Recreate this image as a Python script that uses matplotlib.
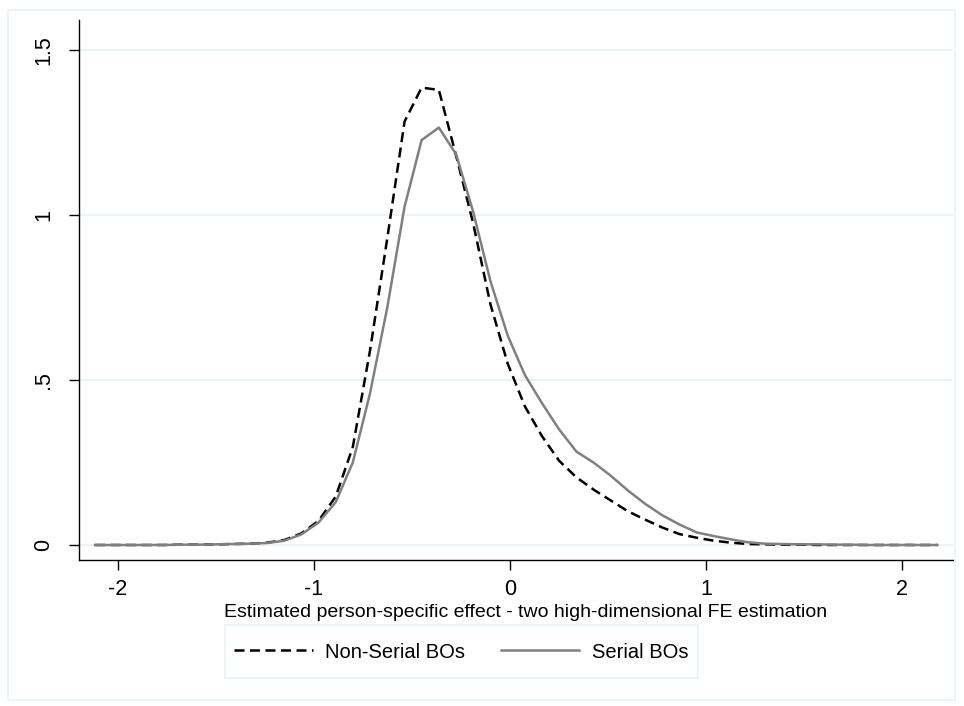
import matplotlib

matplotlib.use("Agg")

import matplotlib.pyplot as plt
from matplotlib.lines import Line2D
from matplotlib.patches import Rectangle

plt.rcParams["font.family"] = ["Liberation Sans", "DejaVu Sans"]

# kdensity evaluation grid (50 points)
grid = [
    -2.117, -2.029, -1.942, -1.854, -1.766, -1.679, -1.591, -1.503, -1.415, -1.328,
    -1.240, -1.152, -1.065, -0.977, -0.889, -0.802, -0.714, -0.626, -0.538, -0.451,
    -0.363, -0.275, -0.188, -0.100, -0.012, 0.076, 0.163, 0.251, 0.339, 0.426,
    0.514, 0.602, 0.689, 0.777, 0.865, 0.953, 1.040, 1.128, 1.216, 1.303,
    1.391, 1.479, 1.566, 1.654, 1.742, 1.830, 1.917, 2.005, 2.093, 2.180,
]

dens_nonserial = [
    0.000, 0.000, 0.000, 0.000, 0.000, 0.001, 0.001, 0.002, 0.003, 0.004,
    0.007, 0.015, 0.035, 0.073, 0.147, 0.297, 0.590, 0.930, 1.283, 1.386,
    1.379, 1.180, 0.975, 0.730, 0.550, 0.420, 0.330, 0.255, 0.205, 0.168,
    0.135, 0.102, 0.077, 0.053, 0.033, 0.022, 0.013, 0.007, 0.003, 0.002,
    0.001, 0.001, 0.000, 0.000, 0.000, 0.000, 0.000, 0.000, 0.000, 0.000,
]

dens_serial = [
    0.000, 0.000, 0.000, 0.000, 0.000, 0.001, 0.001, 0.002, 0.003, 0.004,
    0.006, 0.013, 0.032, 0.068, 0.130, 0.250, 0.460, 0.720, 1.025, 1.227,
    1.265, 1.184, 1.010, 0.800, 0.635, 0.515, 0.430, 0.350, 0.283, 0.250,
    0.210, 0.165, 0.125, 0.090, 0.062, 0.038, 0.027, 0.017, 0.008, 0.004,
    0.003, 0.002, 0.002, 0.001, 0.001, 0.000, 0.000, 0.000, 0.000, 0.000,
]

series_labels = ["Non-Serial BOs", "Serial BOs"]
xticks = [-2, -1, 0, 1, 2]
yticks = [0, 0.5, 1, 1.5]
ytick_labels = ["0", ".5", "1", "1.5"]

W, H = 964, 706
grid_color = "#eaf2f3"
gray = "#808080"

fig = plt.figure(figsize=(W / 100, H / 100), dpi=100)

# light frame around the graph region
fig.patches.append(
    Rectangle((8 / W, 6 / H), 947 / W, 690 / H, transform=fig.transFigure,
              fill=False, edgecolor=grid_color, lw=1.2)
)

ax = fig.add_axes([79 / W, 1 - 560 / H, (953 - 79) / W, (560 - 20) / H])
ax.set_xlim((79 - 510) / 196, (953 - 510) / 196)
ax.set_ylim((545 - 560) / 330, (545 - 20) / 330)

for y in yticks:
    ax.axhline(y, color=grid_color, lw=1.3, zorder=0)

ax.plot(grid, dens_nonserial, color="black", lw=1.8, dashes=(4, 2.2),
        label=series_labels[0])
ax.plot(grid, dens_serial, color=gray, lw=1.8, label=series_labels[1])

for side in ("top", "right"):
    ax.spines[side].set_visible(False)
for side in ("left", "bottom"):
    ax.spines[side].set_linewidth(1.0)

ax.set_xticks(xticks)
ax.set_xticklabels([str(t) for t in xticks])
ax.set_yticks(yticks)
ax.set_yticklabels(ytick_labels, rotation=90, va="center")
ax.tick_params(axis="both", length=7, width=1.0, labelsize=15.5)
ax.tick_params(axis="x", pad=7)
ax.tick_params(axis="y", pad=11)

ax.set_xlabel("Estimated person-specific effect - two high-dimensional FE estimation",
              fontsize=14)
ax.xaxis.set_label_coords((526 - 79) / 874, -44 / 540)

# legend box is drawn separately so its padding can be wider vertically
fig.patches.append(
    Rectangle((225 / W, 1 - 678 / H), 473 / W, 53 / H, transform=fig.transFigure,
              fill=False, edgecolor=grid_color, lw=1.2)
)
handles = [
    Line2D([], [], color="black", lw=1.8, dashes=(4, 2.2)),
    Line2D([], [], color=gray, lw=1.8),
]
fig.legend(handles, series_labels, ncol=2, loc="center",
           bbox_to_anchor=(461 / W, 1 - 652 / H), fontsize=14.5,
           frameon=False, handlelength=3.9,
           handletextpad=0.6, columnspacing=1.8)

fig.savefig("out.png", dpi=100)
